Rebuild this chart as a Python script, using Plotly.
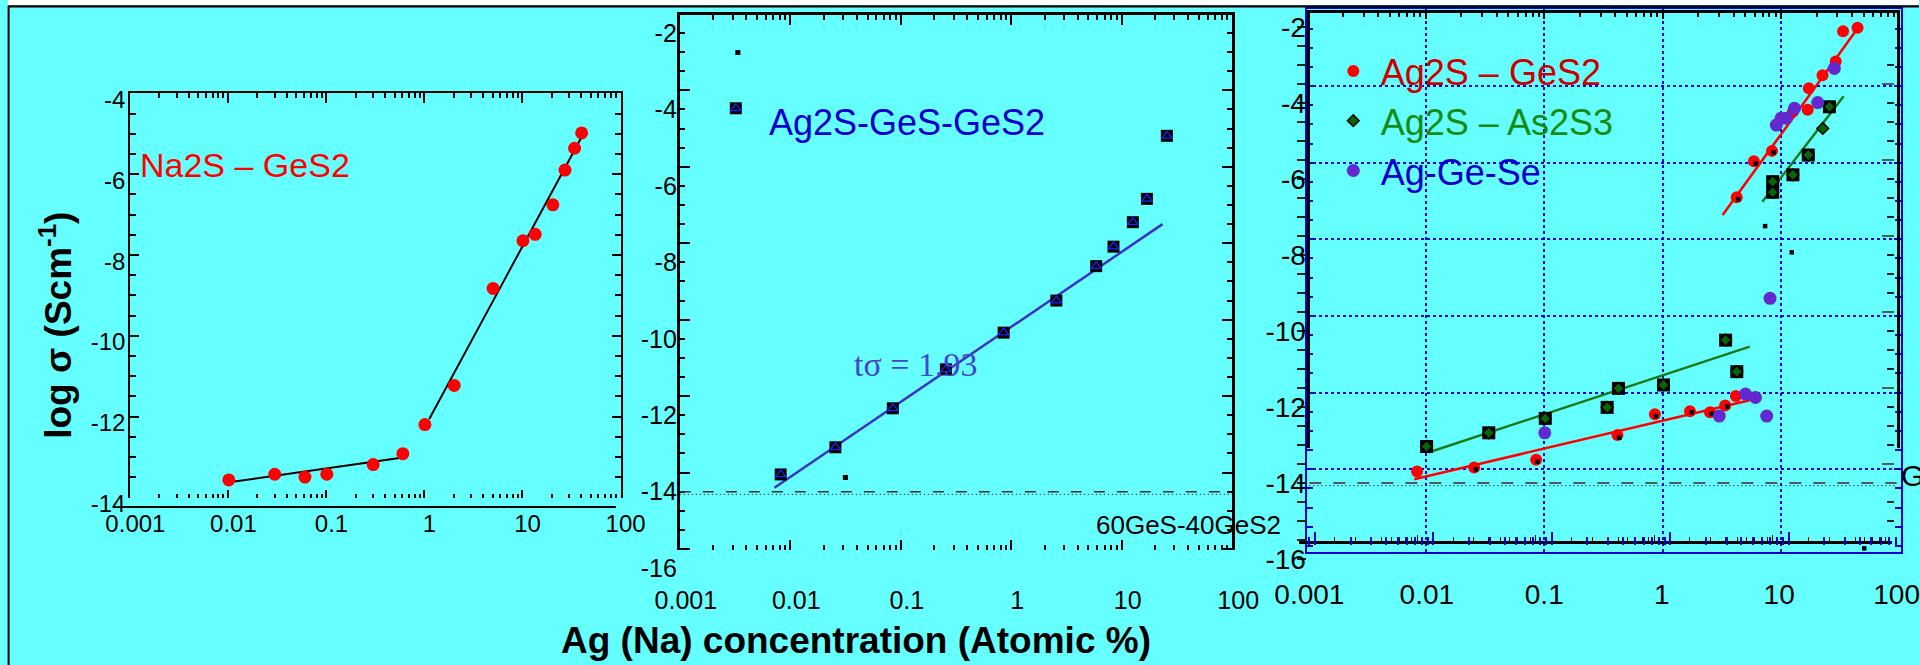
import plotly.graph_objects as go

W, H = 1920, 665
BG = '#66FFFF'
SANS = 'Liberation Sans, Arial, Helvetica, sans-serif'
SERIF = 'Liberation Serif, Times New Roman, serif'
BLUE = '#0000CC'

# ---------------- data ----------------
decades = [0.001, 0.01, 0.1, 1, 10, 100]
decade_text = ['0.001', '0.01', '0.1', '1', '10', '100']

# left panel: Na2S - GeS2
na_conc = [0.0102, 0.030, 0.061, 0.102, 0.303, 0.608, 1.02, 2.03, 5.06, 10.2, 13.6, 20.6, 27.4, 34.3, 40.5]
na_logs = [-13.57, -13.43, -13.50, -13.43, -13.19, -12.92, -12.20, -11.23, -8.83, -7.65, -7.49, -6.76, -5.90, -5.36, -4.98]
na_fit1_conc = [0.0117, 0.585]
na_fit1_logs = [-13.61, -13.02]
na_fit2_conc = [1.13, 40.5]
na_fit2_logs = [-12.06, -5.08]
p1_yticks = [-4, -6, -8, -10, -12, -14]

# middle panel: Ag2S-GeS-GeS2
ags_conc = [0.00321, 0.00818, 0.0256, 0.0847, 0.256, 0.853, 2.56, 5.87, 8.42, 12.6, 16.9, 25.6]
ags_logs = [-3.97, -13.55, -12.84, -11.82, -10.80, -9.84, -9.00, -8.10, -7.59, -6.95, -6.34, -4.69]
ags_small_conc = [0.00335, 0.0315]
ags_small_logs = [-2.51, -13.63]
ags_fit_conc = [0.00718, 23.4]
ags_fit_logs = [-13.90, -7.00]
p2_yticks = [-2, -4, -6, -8, -10, -12, -14, -16]

# host glass 60GeS-40GeS2 level
host_conc = [0.001, 100]
host_dash = [-14.0, -14.0]
host_dot = [-14.07, -14.07]

# right panel: Ag2S - GeS2
gs_conc = [0.00826, 0.0253, 0.0853, 0.42, 0.875, 1.74, 2.58, 3.47, 4.28,
           4.35, 6.09, 8.69, 13.1, 17.5, 17.9, 23.4, 30.3, 35.0, 46.5]
gs_logs = [-13.70, -13.59, -13.39, -12.74, -12.19, -12.11, -12.14, -11.96, -11.71,
           -6.48, -5.53, -5.26, -4.23, -4.18, -3.61, -3.27, -2.91, -2.11, -2.02]
gs_fit1_conc = [0.0078, 5.62]
gs_fit1_logs = [-13.90, -11.82]
gs_fit2_conc = [3.30, 46.0]
gs_fit2_logs = [-6.95, -2.06]

# right panel: Ag2S - As2S3
as_conc = [0.00995, 0.0337, 0.102, 0.343, 0.428, 1.036, 3.50, 4.36, 8.81, 8.81, 13.1, 17.7, 23.5, 26.8]
as_logs = [-13.04, -12.68, -12.30, -12.01, -11.51, -11.42, -10.24, -11.07, -6.07, -6.35, -5.89, -5.37, -4.67, -4.10]
as_unboxed = [12]
as_fit1_conc = [0.01045, 5.62]
as_fit1_logs = [-13.19, -10.41]
as_fit2_conc = [7.19, 35.4]
as_fit2_logs = [-6.60, -3.82]

# right panel: Ag-Ge-Se
se_conc = [0.101, 3.09, 5.17, 6.29, 7.83, 8.36, 9.46, 10.4, 11.5, 13.5, 21.3, 29.5]
se_logs = [-12.68, -12.24, -11.66, -11.75, -12.24, -9.14, -4.58, -4.40, -4.40, -4.14, -3.99, -3.09]

# right panel: small black markers
bk_conc = [0.0262, 0.0875, 0.434, 0.893, 1.80, 2.66, 3.61, 4.48, 6.33, 8.97, 13.5, 7.59, 12.8, 53.0]
bk_logs = [-13.64, -13.44, -12.81, -12.24, -12.14, -12.18, -11.99, -6.53, -5.59, -5.30, -4.23, -7.24, -7.93, -15.72]
p3_yticks = [-2, -4, -6, -8, -10, -12, -14, -16]

# ---------------- axis calibrations: (value, pixel, pixels per unit) ----------------
P1_X = (-3, 122.5, 98.5)
P1_Y = (-4, 93.3, 40.4)
P1_XLAB = (-3, 128.0, 98.5)
P1_YLAB = (-4, 99.5, 40.4)

P2_X = (-3, 675.0, 111.0)
P2_Y = (-2, 33.0, 38.22)
P2_XLAB = (-3, 681.0, 111.0)

P3_X = (-3, 1307.5, 118.0)
P3_Y = (-2, 27.0, 38.0)
P3_GX = (-3, 1305.3, 119.0)
P3_GY = (-4, 86.0, 38.33)
P3_KX = (-3, 1297.0, 119.0)
P3_BX = (-3, 1313.0, 119.0)

layout_axes = {}
traces = []
count = [0]
BASE = dict(showline=False, showgrid=False, zeroline=False, ticks='', showticklabels=False,
            fixedrange=True)


def rng(lo, hi, cal, down=False):
    v0, p0, s = cal
    if down:
        return [v0 - (hi - p0) / s, v0 - (lo - p0) / s]
    return [v0 + (lo - p0) / s, v0 + (hi - p0) / s]


def subplot(box, xcal, ycal, xkw=None, ykw=None):
    count[0] += 1
    sx = '' if count[0] == 1 else str(count[0])
    X0, X1, Y0, Y1 = box
    xa = dict(BASE, type='log', domain=[X0 / W, X1 / W], range=rng(X0, X1, xcal), anchor='y' + sx)
    ya = dict(BASE, domain=[1 - Y1 / H, 1 - Y0 / H], range=rng(Y0, Y1, ycal, down=True), anchor='x' + sx)
    xa.update(xkw or {})
    ya.update(ykw or {})
    layout_axes['xaxis' + sx] = xa
    layout_axes['yaxis' + sx] = ya
    traces.append(go.Scatter(x=[], y=[], xaxis='x' + sx, yaxis='y' + sx, showlegend=False,
                             hoverinfo='skip'))
    return 'x' + sx, 'y' + sx


def ticks(length, color='black', width=1.5):
    return dict(ticks='inside', ticklen=length, tickcolor=color, tickwidth=width)


def minor(length, dtick, color='black', width=1.5, where='inside'):
    return dict(minor=dict(ticks=where, ticklen=length, tickcolor=color, tickwidth=width, dtick=dtick))


def labels(vals, text, size):
    return dict(showticklabels=True, tickmode='array', tickvals=vals, ticktext=text,
                ticklabeloverflow='allow',
                tickfont=dict(family=SANS, size=size, color='black'))


# ---------------- left panel frame ----------------
P1_BOX = (122.5, 616.0, 93.3, 497.7)
subplot(P1_BOX, P1_X, P1_Y,
        dict(side='top', showline=True, linecolor='black', linewidth=2, dtick=1, tick0=0,
             **ticks(10), **minor(5, 'D1')),
        dict(showline=True, linecolor='black', linewidth=2, mirror='ticks', dtick=2, tick0=0,
             **ticks(9), **minor(6, 0.5)))
subplot(P1_BOX, P1_X, P1_Y,
        dict(side='bottom', dtick=1, tick0=0, **ticks(8), **minor(4, 'D1')))
subplot((117.0, 611.0, 480.0, 506.0), P1_X, P1_Y,
        dict(side='bottom', showline=True, linecolor='black', linewidth=2))
subplot((100.0, 660.0, 490.0, 507.0), P1_XLAB, P1_Y,
        labels(decades, decade_text, 24))
subplot((119.0, 140.0, 80.0, 520.0), P1_X, P1_YLAB,
        None, labels(p1_yticks, [str(v) for v in p1_yticks], 24))

# ---------------- middle panel frame ----------------
P2_BOX = (675.0, 1229.5, 15.0, 550.0)
subplot(P2_BOX, P2_X, P2_Y,
        dict(side='top', showline=True, linecolor='black', linewidth=2.5, dtick=1, tick0=0,
             **ticks(10), **minor(5, 'D1')),
        dict(showline=True, linecolor='black', linewidth=2.5, mirror='ticks', dtick=2, tick0=-3.5,
             **ticks(10), **minor(5, 0.5)))
subplot(P2_BOX, P2_X, P2_Y,
        dict(side='bottom', dtick=1, tick0=0, **ticks(10), **minor(5, 'D1')))
subplot((655.0, 1260.0, 560.0, 583.0), P2_XLAB, P2_Y,
        labels(decades, decade_text, 25))
subplot((673.0, 690.0, 15.0, 585.0), P2_X, P2_Y,
        None, labels(p2_yticks, [str(v) for v in p2_yticks], 25))

# ---------------- right panel frame ----------------
P3_BOX = (1305.0, 1902.0, 9.3, 551.7)
subplot(P3_BOX, P3_GX, P3_GY,
        dict(showline=True, linecolor=BLUE, linewidth=2, mirror=True, tickmode='array',
             tickvals=[0.01, 0.1, 1, 10], showgrid=True, gridcolor='#0000DD', gridwidth=2,
             griddash='dot'),
        dict(showline=True, linecolor=BLUE, linewidth=2, mirror='ticks', tickmode='array',
             tickvals=[-4, -6, -8, -10, -12, -14], showgrid=True, gridcolor='#0000DD', gridwidth=2,
             griddash='dot', **ticks(7, BLUE, 2), **minor(6, 0.5, BLUE, 2)))
subplot((1308.3, 1897.5, 12.7, 448.0), P3_GX, P3_Y,
        dict(side='top', showline=True, linecolor='black', linewidth=3, dtick=1, tick0=0,
             **ticks(6), **minor(4, 'D1')),
        dict(showline=True, linecolor='black', linewidth=3, mirror=True))
subplot((1297.0, 1893.0, 500.0, 541.3), P3_KX, P3_Y,
        dict(side='bottom', showline=True, linecolor='black', linewidth=3, dtick=1, tick0=0,
             **ticks(6, 'black', 1), **minor(4, 'D1', 'black', 1)))
subplot((1305.0, 1902.0, 500.0, 545.0), P3_BX, P3_Y,
        dict(side='bottom', dtick=1, tick0=0, **ticks(13, BLUE, 2), **minor(8, 'D1', BLUE, 2)))
subplot((1300.0, 1895.0, 46.0, 525.0), P3_X, P3_Y,
        None,
        dict(side='right', dtick=2, tick0=-3.5, **ticks(12, '#4f5f5f', 2), **minor(7, 0.5, '#222222')))
subplot((1305.0, 1320.0, 10.0, 575.0), P3_X, P3_Y,
        None,
        dict(labels(p3_yticks, [str(v) for v in p3_yticks], 28), **minor(9, 0.5, '#222222', 1.5, 'outside')))
subplot((1280.0, 1920.0, 560.0, 574.5), P3_X, P3_Y,
        labels(decades, decade_text, 28))

# ---------------- data ----------------
d1x, d1y = subplot(P1_BOX, P1_X, P1_Y)
d2x, d2y = subplot(P2_BOX, P2_X, P2_Y)
d3x, d3y = subplot(P3_BOX, P3_X, P3_Y)


def add(xa, ya, x, y, **kw):
    kw.setdefault('showlegend', False)
    traces.append(go.Scatter(x=x, y=y, xaxis=xa, yaxis=ya, cliponaxis=False, hoverinfo='skip', **kw))


# left panel
add(d1x, d1y, na_fit1_conc, na_fit1_logs, mode='lines', line=dict(color='black', width=2))
add(d1x, d1y, na_fit2_conc, na_fit2_logs, mode='lines', line=dict(color='black', width=2))
add(d1x, d1y, na_conc, na_logs, mode='markers', marker=dict(color='#FF0000', size=13, line_width=0))

# middle panel
add(d2x, d2y, host_conc, host_dash, mode='lines', line=dict(color='#333333', width=1.5, dash='11px,12px'))
add(d2x, d2y, host_conc, host_dot, mode='lines', line=dict(color='black', width=1, dash='1px,3px'))
add(d2x, d2y, ags_fit_conc, ags_fit_logs, mode='lines', line=dict(color='#3A32C8', width=2.5))
add(d2x, d2y, ags_conc, ags_logs, mode='markers', marker=dict(symbol='square', color='black', size=12))
add(d2x, d2y, ags_conc, ags_logs, mode='markers',
    marker=dict(symbol='triangle-up-open', color='#2020FF', size=9, line=dict(width=1.3)))
add(d2x, d2y, ags_small_conc, ags_small_logs, mode='markers', marker=dict(symbol='square', color='black', size=5))

# right panel
add(d3x, d3y, host_conc, host_dash, mode='lines', line=dict(color='#4d5a5a', width=2, dash='12px,12px'))
add(d3x, d3y, host_conc, host_dot, mode='lines', line=dict(color='black', width=1, dash='1px,3px'))
add(d3x, d3y, as_fit1_conc, as_fit1_logs, mode='lines', line=dict(color='#1a7a1a', width=2.5))
add(d3x, d3y, as_fit2_conc, as_fit2_logs, mode='lines', line=dict(color='#1a7a1a', width=2.5))
add(d3x, d3y, gs_fit1_conc, gs_fit1_logs, mode='lines', line=dict(color='#FF0000', width=2.5))
add(d3x, d3y, gs_fit2_conc, gs_fit2_logs, mode='lines', line=dict(color='#FF0000', width=2.5))
boxed = [i for i in range(len(as_conc)) if i not in as_unboxed]
add(d3x, d3y, [as_conc[i] for i in boxed], [as_logs[i] for i in boxed], mode='markers',
    marker=dict(symbol='square', color='black', size=13))
add(d3x, d3y, as_conc, as_logs, mode='markers', showlegend=True, legendrank=2,
    name='<span style="color:#148C14">Ag2S – As2S3</span>',
    marker=dict(symbol='diamond', color='#0A640A', size=9, line=dict(color='black', width=1.5)))
add(d3x, d3y, gs_conc, gs_logs, mode='markers', showlegend=True, legendrank=1,
    name='<span style="color:#CC0000">Ag2S – GeS2</span>',
    marker=dict(color='#FF0000', size=12, line_width=0))
add(d3x, d3y, bk_conc, bk_logs, mode='markers', marker=dict(symbol='square', color='black', size=4.5))
add(d3x, d3y, se_conc, se_logs, mode='markers', showlegend=True, legendrank=3,
    name='<span style="color:#0000CC">Ag-Ge-Se</span>',
    marker=dict(color='#6428D0', size=13, line_width=0))

# ---------------- texts ----------------
def note(text, X, Y, size, color='black', family=SANS, xanchor='left', angle=0):
    return dict(text=text, x=X / W, y=1 - Y / H, xref='paper', yref='paper', showarrow=False,
                xanchor=xanchor, yanchor='middle', textangle=angle,
                font=dict(family=family, size=size, color=color))


annotations = [
    note('<b>log σ (Scm<sup>-1</sup>)</b>', 48, 325, 37, xanchor='center', angle=-90),
    note('<b>Ag (Na) concentration (Atomic %)</b>', 852, 640, 37, xanchor='center'),
    note('Na2S – GeS2', 131, 165, 34, '#FF0000'),
    note('Ag2S-GeS-GeS2', 763, 122.5, 36, BLUE),
    note('tσ = 1.93', 848, 364, 34, '#4545CC', SERIF),
    note('60GeS-40GeS2', 1091.5, 525, 26),
    note('GeS2', 1900, 475, 30),
]

shapes = [
    dict(type='rect', xref='paper', yref='paper', x0=0, x1=1, y0=1 - 5 / H, y1=1,
         fillcolor='white', line_width=0, layer='below'),
    dict(type='line', xref='paper', yref='paper', x0=0, x1=1, y0=1 - 6.3 / H, y1=1 - 6.3 / H,
         line=dict(color='black', width=2.3)),
    dict(type='line', xref='paper', yref='paper', x0=0.6 / W, x1=0.6 / W, y0=0, y1=1 - 6 / H,
         line=dict(color='black', width=2)),
]

fig = go.Figure(data=traces)
fig.update_layout(
    width=W, height=H, margin=dict(l=0, r=0, t=0, b=0),
    paper_bgcolor=BG, plot_bgcolor='rgba(0,0,0,0)',
    showlegend=True,
    legend=dict(x=1324 / W, y=1 - 41 / H, xanchor='left', yanchor='top', bgcolor='rgba(0,0,0,0)',
                font=dict(family=SANS, size=36), itemwidth=45, tracegroupgap=0, traceorder='normal'),
    annotations=annotations, shapes=shapes,
    **layout_axes,
)
fig.write_html('out.html')
